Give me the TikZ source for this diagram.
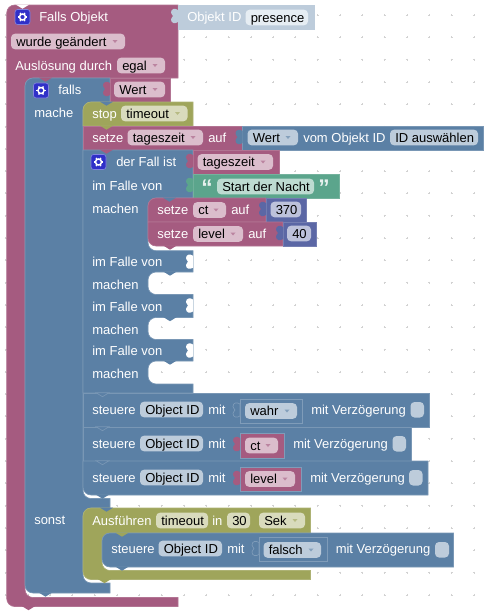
\documentclass[tikz,border=0pt]{standalone}
\usepackage{fontspec}
\setmainfont{Liberation Sans}
\definecolor{blockP}{HTML}{A55B80}
\definecolor{blockB}{HTML}{5B80A5}
\definecolor{blockO}{HTML}{9FA55B}
\definecolor{blockT}{HTML}{5BA58C}
\definecolor{blockI}{HTML}{5B67A5}
\definecolor{blockG}{HTML}{BDCCDB}
\definecolor{fieldP}{HTML}{DBBDCC}
\definecolor{fieldB}{HTML}{BDCCDB}
\definecolor{fieldO}{HTML}{D9DBBD}
\definecolor{fieldT}{HTML}{BDDBD1}
\definecolor{fieldI}{HTML}{BDC2DB}
\definecolor{fieldG}{HTML}{E6EDF3}
\definecolor{iconblue}{HTML}{3030C8}
% Werkzeuge: Zapfen unten, Zapfen links, Felder, Zahnrad
\newcommand{\nextbump}[3]{\fill[#3] (#1,#2-0.3) .. controls ({#1+3},#2) and ({#1+4},{#2+3.7}) .. ({#1+6.5},{#2+3.7}) .. controls ({#1+9},{#2+3.7}) and ({#1+10},#2) .. ({#1+13},#2-0.3) -- cycle;}
\newcommand{\valuetab}[3]{\fill[#3] (#1,#2+5) .. controls ({#1-3},#2+3) and ({#1-7},#2+3.5) .. ({#1-7},#2+7.5) .. controls ({#1-7},#2+10) and ({#1-5},#2+9.5) .. ({#1-5},#2+11) .. controls ({#1-5},#2+12.5) and ({#1-7},#2+12) .. ({#1-7},#2+14.5) .. controls ({#1-7},#2+18.5) and ({#1-3},#2+19) .. (#1,#2+17) -- cycle;}
\newcommand{\textfield}[6]{\fill[field#5, rounded corners=3pt] (#2,#4-7.8) rectangle (#3,#4+7.8);
	\node[val] (#1) at (#2+5,#4) {#6};}
\newcommand{\dropfield}[6]{\textfield{#1}{#2}{#3}{#4}{#5}{#6}
	\fill[block#5!75!white] (#3-12.5,#4-1.5) -- (#3-7.5,#4-1.5) -- (#3-10,#4+1.5) -- cycle;}
\newcommand{\gearicon}[2]{\filldraw[iconblue, draw=iconblue!60!white, line width=0.5pt, rounded corners=2pt] (#1,#2) rectangle (#1+15,#2+15);
	\draw[white, line width=1.1pt] (#1+7.5,#2+7.5) circle (3);
	\foreach \ang in {0,60,...,300} {\draw[white, line width=1pt] (#1+7.5,#2+7.5) ++(\ang:3) -- ++(\ang:1.8);}}
\begin{document}
\begin{tikzpicture}[x=0.75pt, y=-0.75pt, every node/.style={font=\fontsize{9.75}{11}\selectfont, inner sep=0pt},
	lbl/.style={anchor=base west, yshift=-3.5pt, text=white},
	val/.style={anchor=base west, yshift=-3.5pt, text=black},
	griddot/.style={draw=gray!35, line width=0.4pt},
	edgeP/.style={fill=blockP, draw=blockP!85!white, line width=0.5pt},
	edgeB/.style={fill=blockB, draw=blockB!82!white, line width=0.5pt},
	edgeO/.style={fill=blockO, draw=blockO!85!white, line width=0.5pt},
	edgeT/.style={fill=blockT, draw=blockT!85!white, line width=0.5pt},
	edgeI/.style={fill=blockI, draw=blockI!85!white, line width=0.5pt},
	edgeV/.style={line width=0.5pt, draw=blockB!78!white},
	check/.style={fill=fieldB, rounded corners=3pt}]
	\useasboundingbox (0,0) rectangle (491,614);
	
	% === Raster ===
	\foreach \gx in {0,...,21} {
		\foreach \gy in {0,...,26} {
			\draw[griddot] (5.5+22.3*\gx-1,15+22.3*\gy) -- ++(2,0) (5.5+22.3*\gx,15+22.3*\gy-1) -- ++(0,2);
		}
	}
	
	% === Falls Objekt (aussen) ===
	\filldraw[edgeP] (6.7,13) [rounded corners=6pt] -- (6.7,5) [sharp corners] -- (178,5) -- (178,78) [rounded corners=6pt] -- (25,78) -- (25,597.5) [sharp corners] -- (178,597.5) -- (178,606.5) [rounded corners=6pt] -- (6.7,606.5) [sharp corners] -- cycle;
	\filldraw[fill=blockG, draw=blockG] (178,5) rectangle (314,29);
	
	% === falls / mache / sonst ===
	\filldraw[edgeB] (25,86) [rounded corners=6pt] -- (25,78) [sharp corners] -- (110,78) -- (110,102) [rounded corners=6pt] -- (83,102) -- (83,498.5) [sharp corners] -- (110,498.5) -- (110,508) [rounded corners=6pt] -- (83,508) -- (83,583) [sharp corners] -- (110,583) -- (110,593) [rounded corners=6pt] -- (25,593) [sharp corners] -- cycle;
	\filldraw[edgeP] (110,78) rectangle (170,102);
	
	% === stop, setze ===
	\filldraw[edgeO] (83,110) [rounded corners=6pt] -- (83,102) [sharp corners] -- (193,102) -- (193,126) -- (83,126) -- cycle;
	\filldraw[edgeP] (83,126) rectangle (242.5,150);
	\filldraw[edgeB] (242.5,126) rectangle (483,150);
	
	% === der Fall ist ===
	\filldraw[edgeB] (83,150) -- (193,150) -- (193,198) [rounded corners=6pt] -- (148,198) -- (148,250.7) [sharp corners] -- (193,250.7) -- (193,272) [rounded corners=6pt] -- (148,272) -- (148,294.5) [sharp corners] -- (193,294.5) -- (193,317.5) [rounded corners=6pt] -- (148,317.5) -- (148,339.5) [sharp corners] -- (193,339.5) -- (193,361) [rounded corners=6pt] -- (148,361) -- (148,384) [sharp corners] -- (193,384) -- (193,393) -- (83,393) -- cycle;
	\filldraw[edgeP] (193,150) rectangle (279,174);
	\filldraw[edgeT] (193,174) rectangle (339,198);
	\filldraw[edgeP] (148,206) [rounded corners=6pt] -- (148,198) [sharp corners] -- (266,198) -- (266,222) -- (148,222) -- cycle;
	\filldraw[edgeI] (266,198) rectangle (306,222);
	\filldraw[edgeP] (148,222) -- (283,222) -- (283,246) [rounded corners=6pt] -- (148,246) [sharp corners] -- cycle;
	\filldraw[edgeI] (283,222) rectangle (316,246);
	
	% === steuere ===
	\filldraw[edgeB] (83,393) rectangle (429,427);
	\filldraw[edgeB] (83,427) rectangle (411,461);
	\filldraw[edgeB] (83,461) -- (428,461) -- (428,495) [rounded corners=6pt] -- (83,495) [sharp corners] -- cycle;
	\filldraw[edgeV, fill=blockB] (240,399) rectangle (302.5,423);
	\filldraw[edgeV, fill=blockP] (240,433) rectangle (284.5,458);
	\filldraw[edgeV, fill=blockP] (240,467) rectangle (301,491);
	
	% === Ausfuehren ===
	\filldraw[edgeO] (83,516) [rounded corners=6pt] -- (83,508) [sharp corners] -- (310.5,508) -- (310.5,533) [rounded corners=6pt] -- (102,533) -- (102,570.5) [sharp corners] -- (310.5,570.5) -- (310.5,579.5) [rounded corners=6pt] -- (83,579.5) [sharp corners] -- cycle;
	\filldraw[edgeB] (102,541) [rounded corners=6pt] -- (102,533) [sharp corners] -- (453.5,533) -- (453.5,567) [rounded corners=6pt] -- (102,567) [sharp corners] -- cycle;
	\filldraw[edgeV, fill=blockB] (259,537.5) rectangle (327.7,561.5);
	
	% === Zapfen ===
	\nextbump{16}{5}{white}
	\nextbump{22}{606.5}{blockP}
	\nextbump{39}{78}{blockP}
	\nextbump{39}{593}{blockB}
	\nextbump{100}{102}{blockB}
	\nextbump{100}{126}{blockO}
	\nextbump{100}{150}{blockP}
	\nextbump{163}{198}{blockB}
	\nextbump{163.5}{246}{blockP}
	\nextbump{163.5}{272}{blockB}
	\nextbump{163.5}{317.5}{blockB}
	\nextbump{163.5}{361}{blockB}
	\nextbump{96}{393}{blockB, draw=blockB!82!white, line width=0.5pt}
	\nextbump{96}{427}{blockB, draw=blockB!82!white, line width=0.5pt}
	\nextbump{96}{461}{blockB, draw=blockB!82!white, line width=0.5pt}
	\nextbump{96}{495}{blockB}
	\nextbump{100}{508}{blockB}
	\nextbump{98}{579.5}{blockO}
	\nextbump{115.5}{533}{blockO}
	\nextbump{115.5}{567}{blockB}
	
	\valuetab{178}{5}{blockG}
	\valuetab{110}{78}{blockP}
	\valuetab{242.5}{126}{blockB}
	\valuetab{193}{150}{blockP}
	\valuetab{193}{174}{blockT}
	\valuetab{266}{198}{blockI}
	\valuetab{283}{222}{blockI}
	\valuetab{193}{250.7}{white}
	\valuetab{193}{294.5}{white}
	\valuetab{193}{339.5}{white}
	\valuetab{240}{399}{blockB, draw=blockB!78!white, line width=0.5pt}
	\valuetab{240}{433}{blockP}
	\valuetab{240}{467}{blockP}
	\valuetab{259}{537.5}{blockB, draw=blockB!78!white, line width=0.5pt}
	
	% === Texte und Felder, Kopf ===
	\gearicon{15}{9.5}
	\node[lbl] (fallsobjekt) at (39,17) {Falls Objekt};
	\node[lbl] (objektid) at (187,17) {Objekt ID};
	\textfield{presence}{245.5}{308}{17.5}{G}{presence}
	\dropfield{geaendert}{11}{125}{41.5}{P}{wurde geändert}
	\node[lbl] (ausloesung) at (15,65.5) {Auslösung durch};
	\dropfield{egal}{117}{165}{65.5}{P}{egal}
	
	% === falls ===
	\gearicon{33.5}{83}
	\node[lbl] (falls) at (58,89.5) {falls};
	\dropfield{wertfalls}{114}{165}{89.5}{P}{Wert}
	\node[lbl] (mache) at (34,113) {mache};
	\node[lbl] (stop) at (92,114) {stop};
	\dropfield{timeout}{121}{187.5}{113.5}{O}{timeout}
	\node[lbl] (setze) at (92,138) {setze};
	\dropfield{tageszeit}{127.5}{203}{137.5}{P}{tageszeit}
	\node[lbl] (auf) at (208,138) {auf};
	\dropfield{wertobj}{247.5}{298}{137.5}{B}{Wert}
	\node[lbl] (vomobjekt) at (303,138) {vom Objekt ID};
	\textfield{idwahl}{390}{478}{137.5}{B}{ID auswählen}
	
	% === der Fall ist ===
	\gearicon{91}{154.5}
	\node[lbl] (derfall) at (116,162) {der Fall ist};
	\dropfield{tageszeitb}{197.5}{273}{162}{P}{tageszeit}
	\node[lbl] (imfalla) at (92,185.5) {im Falle von};
	\node[lbl, font=\fontsize{17}{17}\selectfont\bfseries, text=white!85!blockT, yshift=-3pt] (quoteauf) at (201,186.5) {“};
	\textfield{nacht}{217}{314}{186.5}{T}{Start der Nacht}
	\node[lbl, font=\fontsize{17}{17}\selectfont\bfseries, text=white!85!blockT, yshift=-3pt] (quotezu) at (318,186.5) {”};
	\node[lbl] (machena) at (92,208.5) {machen};
	\node[lbl] (setzect) at (157,210) {setze};
	\dropfield{ct}{193}{226}{210}{P}{ct}
	\node[lbl] (aufct) at (231,210) {auf};
	\textfield{zahlct}{270.5}{301}{209.5}{I}{370}
	\node[lbl] (setzelevel) at (157,234) {setze};
	\dropfield{level}{193}{243}{234}{P}{level}
	\node[lbl] (auflevel) at (248,234) {auf};
	\textfield{zahllevel}{287}{311}{233.5}{I}{40}
	\node[lbl] (imfallb) at (92,261.5) {im Falle von};
	\node[lbl] (machenb) at (92,284.5) {machen};
	\node[lbl] (imfallc) at (92,306.5) {im Falle von};
	\node[lbl] (machenc) at (92,329.5) {machen};
	\node[lbl] (imfalld) at (92,351) {im Falle von};
	\node[lbl] (machend) at (92,373.5) {machen};
	
	% === steuere ===
	\node[lbl] (steuerea) at (92,410) {steuere};
	\textfield{objecta}{140}{203}{409.5}{B}{Object ID}
	\node[lbl] (mita) at (208,410) {mit};
	\dropfield{wahr}{245}{297}{411}{B}{wahr}
	\node[lbl] (verza) at (311,410) {mit Verzögerung};
	\fill[check] (410.5,402) rectangle (424,417.5);
	
	\node[lbl] (steuereb) at (92,444) {steuere};
	\textfield{objectb}{140}{203}{443.5}{B}{Object ID}
	\node[lbl] (mitb) at (208,444) {mit};
	\dropfield{ctb}{245}{278}{445.5}{P}{ct}
	\node[lbl] (verzb) at (293,444) {mit Verzögerung};
	\fill[check] (392.5,436) rectangle (406,451.5);
	
	\node[lbl] (steuerec) at (92,478) {steuere};
	\textfield{objectc}{140}{203}{477.5}{B}{Object ID}
	\node[lbl] (mitc) at (208,478) {mit};
	\dropfield{levelc}{245}{295}{479}{P}{level}
	\node[lbl] (verzc) at (310,478) {mit Verzögerung};
	\fill[check] (409,470) rectangle (422.5,485.5);
	
	% === sonst ===
	\node[lbl] (sonst) at (34,520) {sonst};
	\node[lbl] (ausfuehren) at (92,520.5) {Ausführen};
	\textfield{timeoutb}{156}{208}{520.5}{O}{timeout}
	\node[lbl] (in) at (212,520.5) {in};
	\textfield{dreissig}{227}{250}{520.5}{O}{30}
	\dropfield{sek}{259}{305}{520.5}{O}{Sek}
	\node[lbl] (steuered) at (111,549) {steuere};
	\textfield{objectd}{158.5}{222}{548.5}{B}{Object ID}
	\node[lbl] (mitd) at (227,549) {mit};
	\dropfield{falsch}{263.5}{321}{550}{B}{falsch}
	\node[lbl] (verzd) at (335.5,549) {mit Verzögerung};
	\fill[check] (435,542) rectangle (449,557.5);
\end{tikzpicture}
\end{document}
